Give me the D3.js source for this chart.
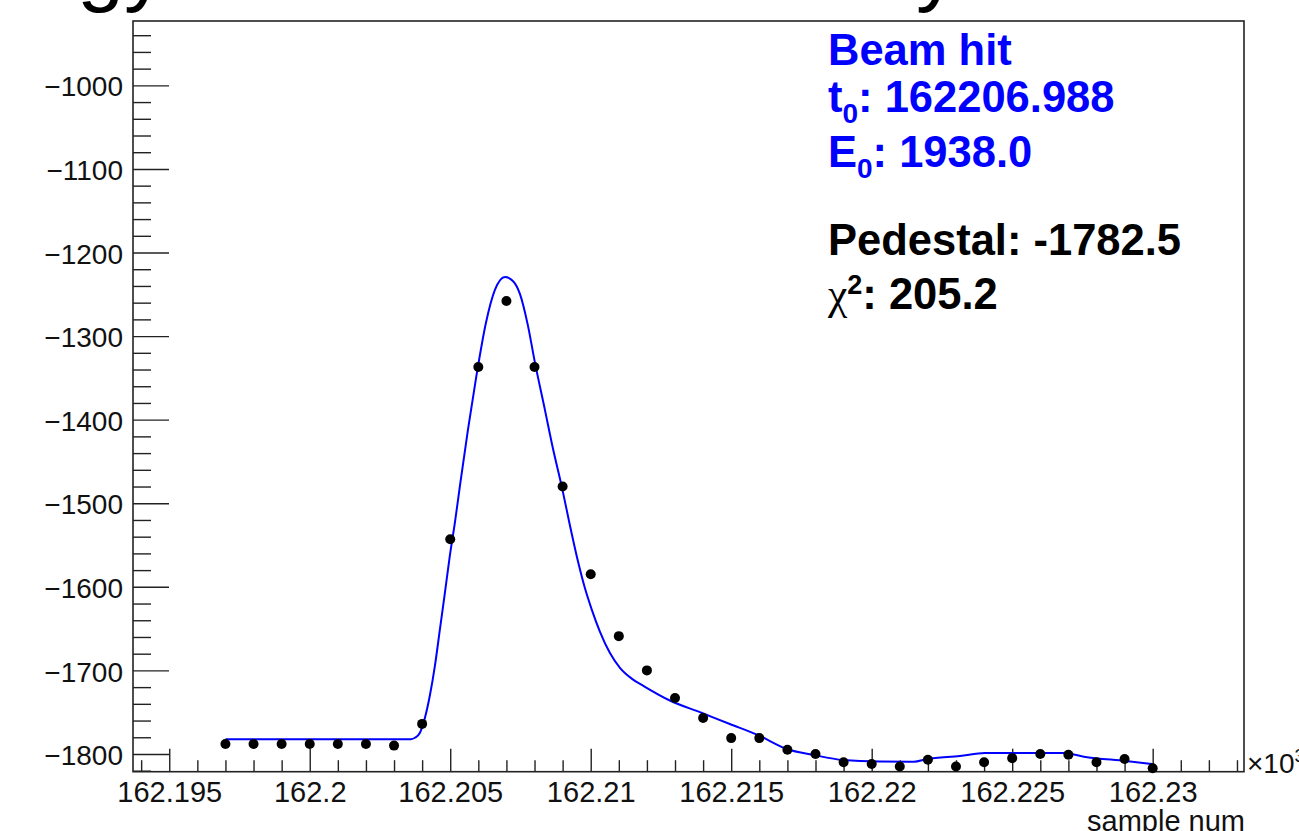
<!DOCTYPE html>
<html>
<head>
<meta charset="utf-8">
<script src="https://cdn.jsdelivr.net/npm/d3@7/dist/d3.min.js"></script>
<style>
  html, body { margin: 0; padding: 0; background: #fff; overflow: hidden; }
  svg { display: block; }
  text { font-family: "Liberation Sans", Arial, Helvetica, sans-serif; }
</style>
</head>
<body>
<svg id="chart" width="1299" height="831"></svg>
<script>
// ---------------- data ----------------
const samples = [162197, 162198, 162199, 162200, 162201, 162202, 162203, 162204, 162205, 162206,
                 162207, 162208, 162209, 162210, 162211, 162212, 162213, 162214, 162215, 162216,
                 162217, 162218, 162219, 162220, 162221, 162222, 162223, 162224, 162225, 162226,
                 162227, 162228, 162229, 162230];
const adcValues = [-1788, -1788, -1788, -1788, -1788, -1788, -1790, -1764, -1543, -1337,
                   -1258, -1337, -1480, -1585, -1659, -1700, -1733, -1757, -1781, -1781,
                   -1795, -1800, -1810, -1812, -1815, -1807, -1815, -1810, -1805, -1800,
                   -1801, -1810, -1806, -1817];

// fitted pulse shape
const fitSamples = [162197.0, 162203.4, 162203.6, 162203.744, 162203.922, 162204.1, 162204.28, 162204.46,
                    162204.63, 162204.81, 162204.99, 162205.17, 162205.35, 162205.63, 162205.92, 162206.27,
                    162206.59, 162206.95, 162207.23, 162207.48, 162207.76, 162208.01, 162208.37, 162208.65,
                    162208.98, 162209.27, 162209.55, 162209.79, 162210.04, 162210.33, 162210.68, 162211.04,
                    162211.47, 162211.93, 162212.78, 162213.96, 162214.95, 162215.95, 162216.98, 162217.94,
                    162218.98, 162220.29, 162221.5, 162221.96, 162223.14, 162224.03, 162226.84, 162227.55,
                    162229.04, 162230.0];
const fitValues = [-1782.5, -1782.5, -1782.3, -1780.6, -1774.6, -1756.7, -1729.2, -1693.3,
                   -1651.5, -1607.2, -1561.8, -1522.3, -1478.0, -1412.2, -1350.0, -1284.3,
                   -1244.8, -1229.3, -1234.0, -1249.5, -1286.6, -1330.9, -1388.3, -1433.7,
                   -1481.6, -1528.2, -1570.1, -1601.2, -1627.5, -1653.8, -1678.9, -1696.9,
                   -1710.1, -1719.6, -1735.4, -1751.0, -1764.1, -1777.3, -1794.0, -1801.2,
                   -1807.2, -1809.0, -1809.2, -1806.0, -1802.4, -1798.8, -1798.8, -1803.2,
                   -1808.4, -1812.0];

const xTickValues = [162195, 162200, 162205, 162210, 162215, 162220, 162225, 162230];
const xTickLabels = ["162.195", "162.2", "162.205", "162.21", "162.215", "162.22", "162.225", "162.23"];
const yTickValues = [-1000, -1100, -1200, -1300, -1400, -1500, -1600, -1700, -1800];
const yTickLabels = ["\u22121000", "\u22121100", "\u22121200", "\u22121300", "\u22121400",
                     "\u22121500", "\u22121600", "\u22121700", "\u22121800"];

const xDomain = [162193.71, 162233.25];
const yDomain = [-1821.2, -923];

// ---------------- layout ----------------
const frame = { left: 133, right: 1244, top: 21, bottom: 771.7 };
const svg = d3.select("#chart");

const x = d3.scaleLinear().domain(xDomain).range([frame.left, frame.right]);
const y = d3.scaleLinear().domain(yDomain).range([frame.bottom, frame.top]);

// title (cropped at the top of the picture)
svg.append("text")
  .attr("x", 166).attr("y", -4)
  .attr("text-anchor", "end")
  .style("font-size", "84px")
  .text("Hit Energy");
svg.append("text")
  .attr("x", 958).attr("y", -4)
  .attr("text-anchor", "end")
  .style("font-size", "84px")
  .text("Beam Summary");

// frame
svg.append("rect")
  .attr("x", frame.left).attr("y", frame.top)
  .attr("width", frame.right - frame.left)
  .attr("height", frame.bottom - frame.top)
  .attr("fill", "none").attr("stroke", "#222").attr("stroke-width", 1.6);

// x axis: minor ticks
const xMinor = d3.range(162194, 162234, 1).filter(v => v % 5 !== 0);
svg.append("g")
  .attr("transform", `translate(0,${frame.bottom})`)
  .call(d3.axisBottom(x).tickValues(xMinor).tickSize(-11.5).tickSizeOuter(0).tickFormat(""))
  .call(g => g.select(".domain").remove())
  .call(g => g.selectAll("line").attr("stroke", "#222").attr("stroke-width", 1.4));

// x axis: major ticks and labels
svg.append("g")
  .attr("transform", `translate(0,${frame.bottom})`)
  .call(d3.axisBottom(x).tickValues(xTickValues).tickSize(-23).tickSizeOuter(0)
        .tickPadding(10).tickFormat((d, i) => xTickLabels[i]))
  .call(g => g.select(".domain").remove())
  .call(g => g.selectAll("line").attr("stroke", "#222").attr("stroke-width", 1.4))
  .call(g => g.selectAll("text").attr("fill", "#111")
        .style("font-size", "29px").style("font-family", "'Liberation Sans', Arial, sans-serif"));

// y axis: minor ticks
const yMinor = d3.range(-1820, -920, 20).filter(v => v % 100 !== 0);
svg.append("g")
  .attr("transform", `translate(${frame.left},0)`)
  .call(d3.axisLeft(y).tickValues(yMinor).tickSize(-18).tickSizeOuter(0).tickFormat(""))
  .call(g => g.select(".domain").remove())
  .call(g => g.selectAll("line").attr("stroke", "#222").attr("stroke-width", 1.4));

// y axis: major ticks and labels
svg.append("g")
  .attr("transform", `translate(${frame.left},0)`)
  .call(d3.axisLeft(y).tickValues(yTickValues).tickSize(-36).tickSizeOuter(0)
        .tickPadding(10).tickFormat((d, i) => yTickLabels[i]))
  .call(g => g.select(".domain").remove())
  .call(g => g.selectAll("line").attr("stroke", "#222").attr("stroke-width", 1.4))
  .call(g => g.selectAll("text").attr("fill", "#111").attr("dy", "0.38em")
        .style("font-size", "28px").style("font-family", "'Liberation Sans', Arial, sans-serif"));

// x10^3 multiplier
const mult = svg.append("text")
  .attr("x", 1247).attr("y", 773)
  .attr("fill", "#111")
  .style("font-size", "28px");
mult.append("tspan").text("\u00d710");
mult.append("tspan").attr("dy", -11).style("font-size", "19px").text("3");

// x axis title
svg.append("text")
  .attr("x", 1245).attr("y", 831)
  .attr("text-anchor", "end")
  .attr("fill", "#111")
  .style("font-size", "29px")
  .text("sample num");

// fit curve
const fitData = fitSamples.map((s, i) => [s, fitValues[i]]);
svg.append("path")
  .datum(fitData)
  .attr("fill", "none")
  .attr("stroke", "#0000ff")
  .attr("stroke-width", 2)
  .attr("d", d3.line().x(d => x(d[0])).y(d => y(d[1])).curve(d3.curveMonotoneX));

// data points
svg.append("g")
  .selectAll("circle")
  .data(samples.map((s, i) => [s, adcValues[i]]))
  .join("circle")
  .attr("cx", d => x(d[0]))
  .attr("cy", d => y(d[1]))
  .attr("r", 5)
  .attr("fill", "#000");

// stats text
const tx = 828;
const fs = 43.5;
function addLine(yPos, color, parts) {
  const t = svg.append("text").attr("x", tx).attr("y", yPos).attr("fill", color)
    .style("font-size", fs + "px").style("font-weight", "bold");
  parts.forEach(p => {
    const ts = t.append("tspan").text(p.text);
    if (p.dy !== undefined) ts.attr("dy", p.dy);
    if (p.size) ts.style("font-size", p.size + "px");
    if (p.family) ts.style("font-family", p.family);
    if (p.weight) ts.style("font-weight", p.weight);
  });
}
addLine(65, "#0000ff", [{ text: "Beam hit" }]);
addLine(112, "#0000ff", [{ text: "t" }, { text: "0", dy: 11, size: 28 }, { text: ": 162206.988", dy: -11 }]);
addLine(167, "#0000ff", [{ text: "E" }, { text: "0", dy: 11, size: 28 }, { text: ": 1938.0", dy: -11 }]);
addLine(255, "#000", [{ text: "Pedestal: -1782.5" }]);
addLine(309, "#000", [
  { text: "\u03c7", family: "'Liberation Serif', 'DejaVu Serif', serif", weight: "normal" },
  { text: "2", dy: -15, size: 27 },
  { text: ": 205.2", dy: 15 }
]);
</script>
</body>
</html>
